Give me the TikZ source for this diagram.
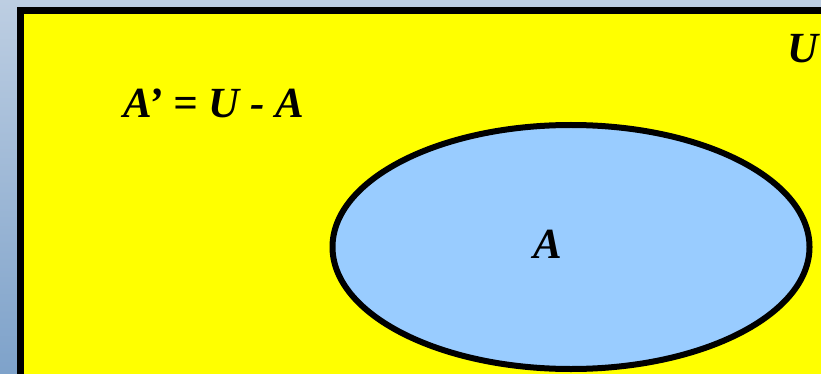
\documentclass[tikz,border=0pt]{standalone}
\usepackage{fontspec}
\setmainfont{Liberation Serif}
\newfontfamily\lblfont{Liberation Serif}[UprightFont=* Bold Italic]
\usetikzlibrary{shapes.geometric}
\definecolor{setblue}{HTML}{99CCFF}
\definecolor{bgtop}{HTML}{BDCEE2}
\definecolor{bgbot}{HTML}{7EA2CA}
\definecolor{univ}{HTML}{FFFF00}
\begin{document}
\begin{tikzpicture}[x=1pt,y=-1pt,
  lbl/.style={font=\lblfont\fontsize{43}{47}\selectfont, text=black, inner sep=0pt},
  setA/.style={ellipse, draw=black, line width=6pt, fill=setblue, minimum width=477pt, minimum height=244pt, inner sep=0pt}]
\useasboundingbox (0,0) rectangle (821,374);
\clip (0,0) rectangle (821,374);
\shade[top color=bgtop, bottom color=bgbot] (0,0) rectangle (821,374);
\node[draw=black, line width=7pt, fill=univ, minimum width=840pt, minimum height=420pt, anchor=north west, inner sep=0pt] (U) at (16.5,7.5) {};
\node[lbl, anchor=base east] (ulabel) at (819,63) {U};
\node[lbl, anchor=base west] (comp) at (123,118) {A’ = U - A};
\node[setA] (A) at (571,247) {};
\node[lbl] (alabel) at (548,244) {A};
\end{tikzpicture}
\end{document}
